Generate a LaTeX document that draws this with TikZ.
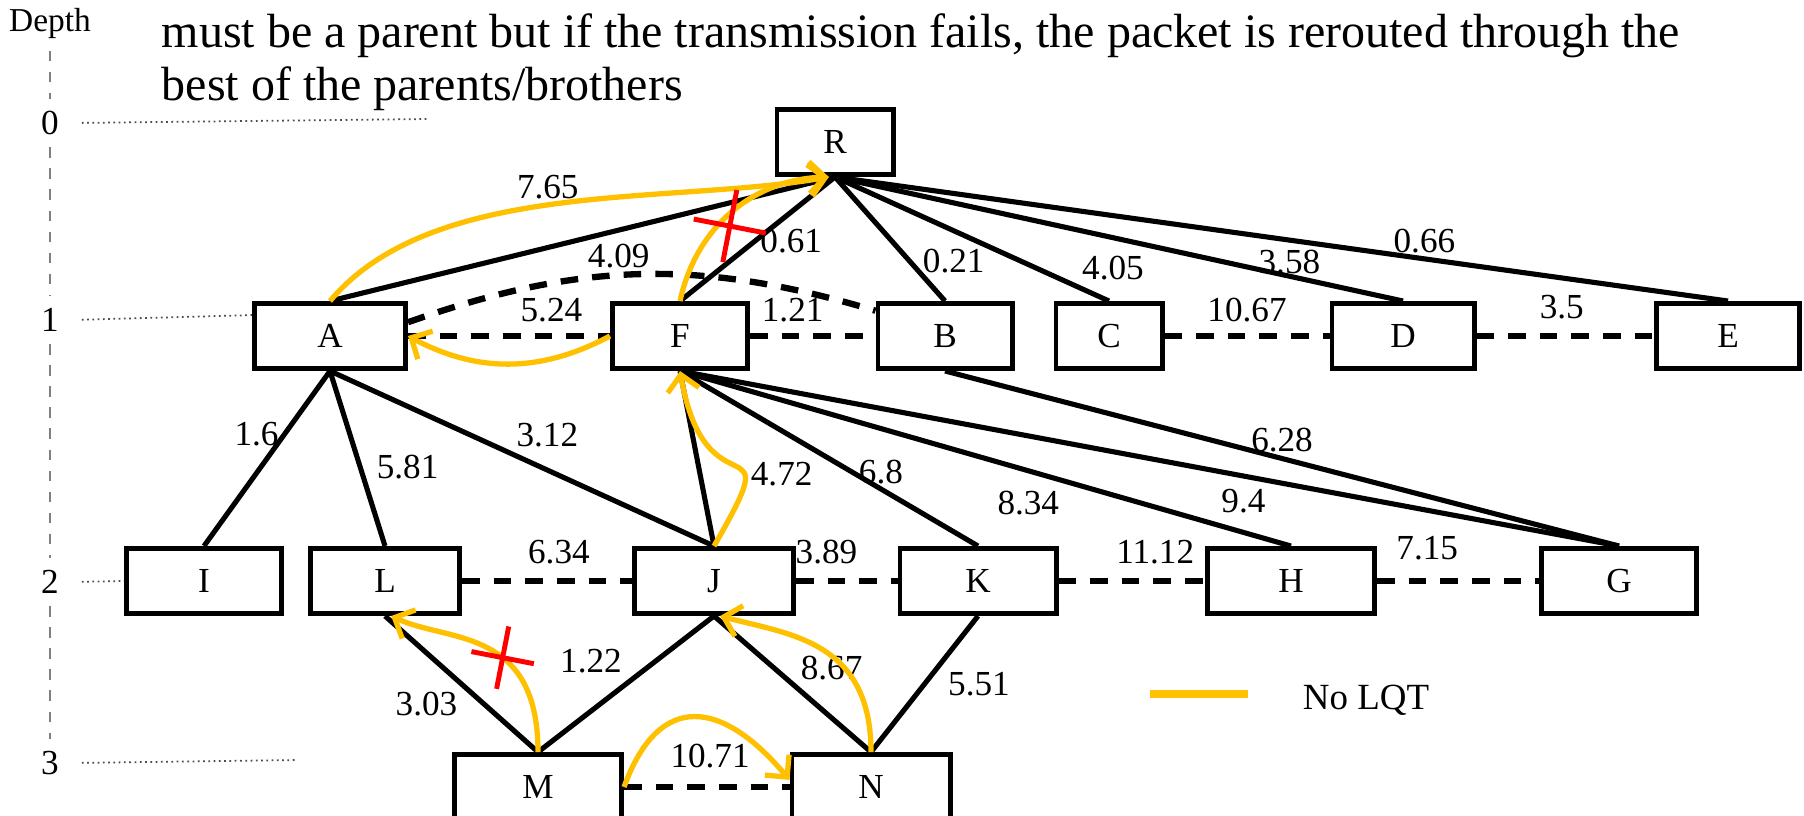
\documentclass[tikz,border=0pt]{standalone}
\usepackage{fontspec}
\setmainfont{Liberation Serif}
\usepackage{xcolor}
\usepackage{tikz}
\definecolor{lqtgold}{HTML}{FFC000}
\definecolor{failred}{HTML}{FF0000}
\definecolor{axisgray}{HTML}{808080}
\usetikzlibrary{arrows.meta, positioning, shapes.misc}

\begin{document}
\begin{tikzpicture}[
    x=0.01cm, y=-0.01cm,
    every node/.style = {font=\fontsize{10}{12}\selectfont},
    box/.style = {draw, fill=white, line width=1.4pt, minimum height=0.65cm, inner sep=2pt},
    link/.style = {line width=1.45pt},
    sib/.style = {line width=1.8pt, dash pattern=on 5pt off 4pt},
    lbl/.style = {inner sep=1pt, text=black},
    yarr/.style = {-{Straight Barb[length=4.5pt, width=9pt]}, lqtgold, line width=1.5pt},
    cut/.style = {draw=failred, cross out, line width=1.4pt, inner sep=0pt},
    depthax/.style = {axisgray, dashed, line width=0.4pt},
    lvl/.style = {black!70, densely dotted, line width=0.5pt, shorten <=3pt},
  ]
  \useasboundingbox (0,0) rectangle (1804,815);
  \clip (0,0) rectangle (1804,815);

  %% Caption
  \node[anchor=north west, inner sep=0pt, align=left, font=\fontsize{13.65}{15}\selectfont] (title) at (161,13)
    {must be a parent but if the transmission fails, the packet is rerouted through the\\best of the parents/brothers};

  %% Depth axis
  \node[font=\fontsize{9.5}{11}\selectfont] (dep) at (50,23) {Depth};
  \node (d0) at (50,123) {0};
  \node (d1) at (50,320) {1};
  \node (d2) at (50,582) {2};
  \node (d3) at (50,763) {3};
  \draw[depthax] (dep) -- (d0) -- (d1) -- (d2) -- (d3);

  %% Nodes
  \node[box, minimum width=1.16cm] (R) at (835,142) {R};
  \node[box, minimum width=1.51cm] (A) at (330,336) {A};
  \node[box, minimum width=1.35cm] (F) at (680,336) {F};
  \node[box, minimum width=1.34cm] (B) at (945,336) {B};
  \node[box, minimum width=1.06cm] (C) at (1109,336) {C};
  \node[box, minimum width=1.42cm] (D) at (1403,336) {D};
  \node[box, minimum width=1.43cm] (E) at (1728,336) {E};
  \node[box, minimum width=1.55cm] (I) at (204,581) {I};
  \node[box, minimum width=1.49cm] (L) at (385,581) {L};
  \node[box, minimum width=1.59cm] (J) at (714,581) {J};
  \node[box, minimum width=1.56cm] (K) at (978,581) {K};
  \node[box, minimum width=1.67cm] (H) at (1291,581) {H};
  \node[box, minimum width=1.55cm] (G) at (1619,581) {G};
  \node[box, minimum width=1.67cm] (M) at (538,787) {M};
  \node[box, minimum width=1.58cm] (N) at (871,787) {N};

  %% Depth guides
  \coordinate (z0) at (428,119);
  \coordinate (z3) at (298,760);
  \draw[lvl] (d0.east) -- (z0);
  \draw[lvl] (d1.east) -- (A.165);
  \draw[lvl] (d2.east) -- (I.west);
  \draw[lvl] (d3.east) -- (z3);

  %% Parent links
  \draw[link] (R.south) -- (A.north);
  \draw[link] (R.south) -- node[lbl, pos=.52, right] {0.61} (F.north);
  \draw[link] (R.south) -- node[lbl, pos=.68, right=2pt] {0.21} (B.north);
  \draw[link] (R.south) -- node[lbl, pos=.88, above right] {4.05} (C.north);
  \draw[link] (R.south) -- node[lbl, pos=.80, above=-1pt] {3.58} (D.north);
  \draw[link] (R.south) -- node[lbl, pos=.66, above] {0.66} (E.north);
  \draw[link] (A.south) -- node[lbl, pos=.36, left] {1.6} (I.north);
  \draw[link] (A.south) -- node[lbl, pos=.55, right=3pt] {5.81} (L.north);
  \draw[link] (A.south) -- node[lbl, pos=.47, above right] {3.12} (J.north);
  \draw[link] (F.south) -- (J.north);
  \draw[link] (F.south) -- node[lbl, pos=.58, right] {6.8} (K.north);
  \draw[link] (F.south) -- node[lbl, pos=.57, below=4pt] {8.34} (H.north);
  \draw[link] (F.south) -- node[lbl, pos=.60, below=2pt] {9.4} (G.north);
  \draw[link] (B.south) -- node[lbl, pos=.50, above] {6.28} (G.north);
  \draw[link] (J.south) -- node[lbl, pos=.33, left=8pt] {1.22} (M.north);
  \draw[link] (L.south) -- node[lbl, pos=.65, left=6pt] {3.03} (M.north);
  \draw[link] (J.south) -- node[lbl, pos=.38, right=6pt] {8.67} (N.north);
  \draw[link] (K.south) -- node[lbl, pos=.50, right=5pt] {5.51} (N.north);

  %% Brother links
  \draw[sib] (A.east) -- node[lbl, pos=.71, above=2pt] {5.24} (F.west);
  \draw[sib] (F.east) -- node[lbl, pos=.34, above=2pt] {1.21} (B.west);
  \draw[sib] (A.10) to[bend left=18] node[lbl, pos=.45, above] {4.09} (B.160);
  \draw[sib] (C.east) -- node[lbl, pos=.50, above=2pt] {10.67} (D.west);
  \draw[sib] (D.east) -- node[lbl, pos=.48, above=3pt] {3.5} (E.west);
  \draw[sib] (L.east) -- node[lbl, pos=.57, above=3pt] {6.34} (J.west);
  \draw[sib] (J.east) -- node[lbl, pos=.30, above=3pt] {3.89} (K.west);
  \draw[sib] (K.east) -- node[lbl, pos=.66, above=3pt] {11.12} (H.west);
  \draw[sib] (H.east) -- node[lbl, pos=.31, above=4pt] {7.15} (G.west);
  \draw[sib] (M.east) -- node[lbl, pos=.52, above=3.5pt] {10.71} (N.west);

  %% No LQT rerouting
  \draw[yarr] (A.north) to[out=50, in=190, looseness=.8] node[lbl, pos=.48, above] {7.65} (R.-100);
  \draw[yarr] (F.north) to[bend left=38] node[cut, pos=.4, xshift=3.5pt, minimum size=0.47cm, rotate=-56] (cut1) {} (R.-100);
  \draw[yarr] (F.west) to[bend left=28] (A.east);
  \draw[yarr] (J.north) to[out=60, in=-80, looseness=2.2] node[lbl, pos=.35, right] {4.72} (F.south);
  \draw[yarr] (M.north) to[out=90, in=-25, out looseness=1.6, in looseness=.8] node[cut, pos=.4, minimum size=0.40cm, rotate=-56] (cut2) {} (L.-80);
  \draw[yarr] (N.north) to[out=90, in=-15, out looseness=1.4, in looseness=.9] (J.-80);
  \draw[yarr] (M.east) to[out=70, in=130, looseness=1.6] (N.175);

  %% Legend
  \coordinate (lgL) at (1150,694);
  \coordinate (lgR) at (1248,694);
  \draw[lqtgold, line width=2pt] (lgL) -- (lgR);
  \node[font=\fontsize{10.5}{12}\selectfont] (nolqt) at (1366,700) {No LQT};
\end{tikzpicture}
\end{document}
